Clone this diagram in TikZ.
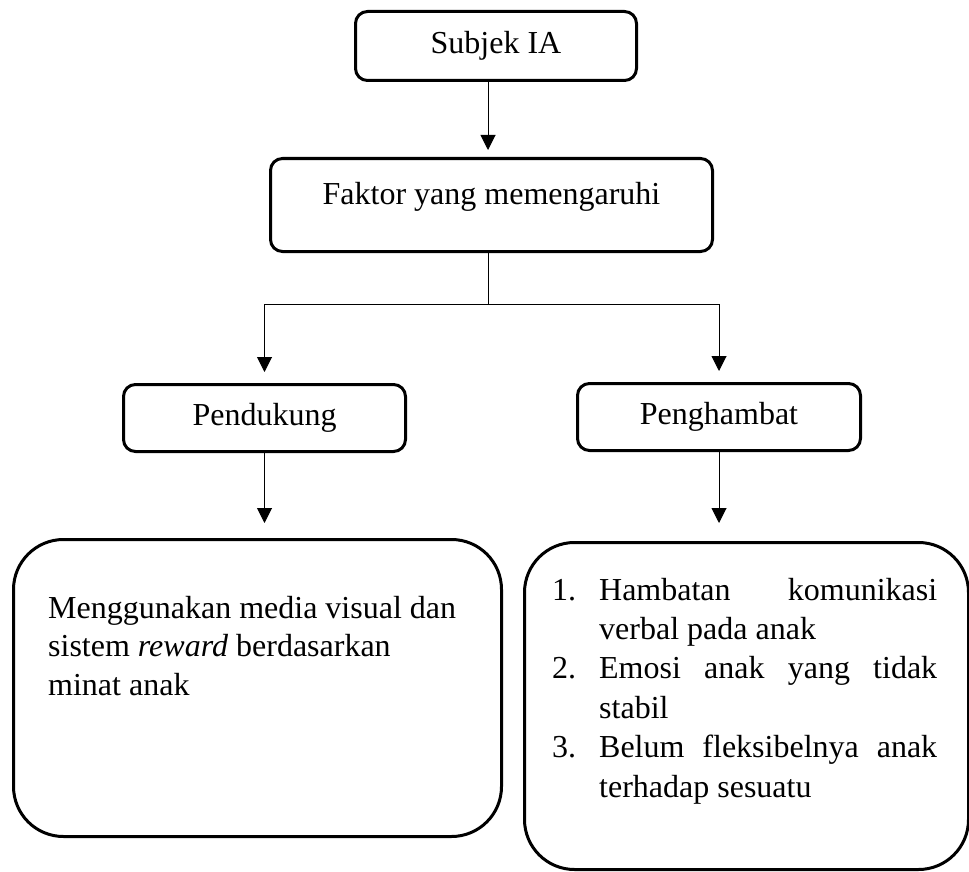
\documentclass[tikz,border=0pt]{standalone}
\usepackage{fontspec}
\setmainfont{Liberation Serif}
\usetikzlibrary{arrows.meta}

\begin{document}
\begin{tikzpicture}[x=1pt,y=-1pt,
  every node/.style={inner sep=0pt,font=\fontsize{32}{38.5}\selectfont},
  box/.style={draw,line width=3pt,rounded corners=12pt},
  bigbox/.style={draw,line width=3pt,rounded corners=50pt},
  arr/.style={line width=1pt,-{Triangle[length=15pt,width=15pt]}}]
  \useasboundingbox (0,0) rectangle (969,872);
  \clip (0,0) rectangle (969,872);
  \node[box,minimum width=281pt,minimum height=69pt] (subjek) at (496,46) {Subjek IA};
  \node[box,minimum width=442pt,minimum height=93pt,text depth=24pt] (faktor) at (491.5,205) {Faktor yang memengaruhi};
  \node[box,minimum width=282pt,minimum height=67pt] (pend) at (264.5,418) {Pendukung};
  \node[box,minimum width=283pt,minimum height=67pt] (peng) at (719,417) {Penghambat};
  \node[bigbox,minimum width=488pt,minimum height=297pt] (lbox) at (257.5,688) {};
  \node[bigbox,minimum width=444pt,minimum height=327pt] (rbox) at (746.5,706) {};
  \node[anchor=base west,align=left] (pendtext) at ([shift={(36,157)}]lbox.north west)
    {Menggunakan media visual dan\\ sistem \textit{reward} berdasarkan\\ minat anak};
  \node[anchor=base west,align=left,font=\fontsize{32}{39.4}\selectfont] (pengtext) at ([shift={(29,256)}]rbox.north west)
    {\makebox[47pt][l]{1.}\makebox[338pt][s]{Hambatan komunikasi}\\
     \hspace*{47pt}verbal pada anak\\
     \makebox[47pt][l]{2.}\makebox[338pt][s]{Emosi anak yang tidak}\\
     \hspace*{47pt}stabil\\
     \makebox[47pt][l]{3.}\makebox[338pt][s]{Belum fleksibelnya anak}\\
     \hspace*{47pt}terhadap sesuatu};
  \coordinate (split) at (488,304);
  \draw[arr,shorten >=7pt] (subjek.south -| split) -- (faktor.north -| split);
  \draw[line width=1pt] (faktor.south -| split) -- (split);
  \draw[arr,shorten >=11pt] (split) -| (pend.north);
  \draw[arr,shorten >=11pt] (split) -| (peng.north);
  \draw[arr,shorten >=15pt] (pend.south) -- (pend.south |- lbox.north);
  \draw[arr,shorten >=18pt] (peng.south) -- (peng.south |- rbox.north);
\end{tikzpicture}
\end{document}
